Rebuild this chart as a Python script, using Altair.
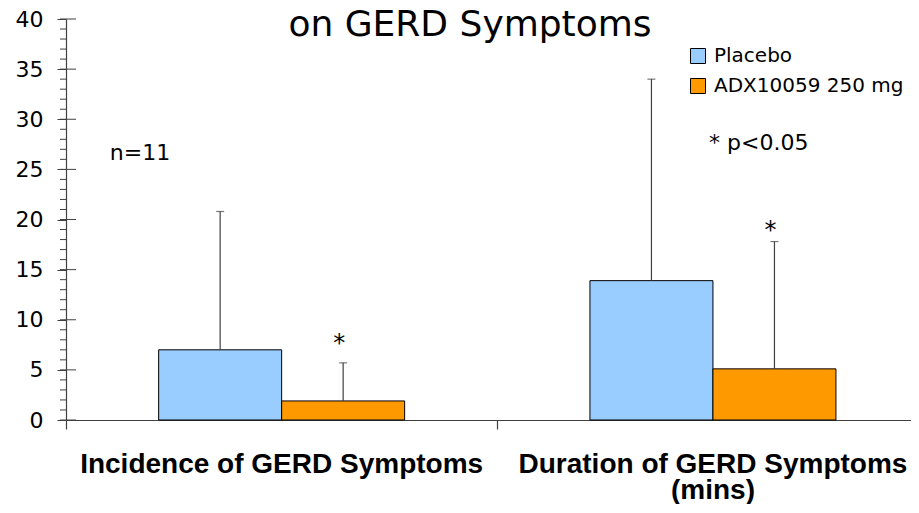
import altair as alt
import pandas as pd

# ---- data ----
categories = ["Incidence of GERD Symptoms", "Duration of GERD Symptoms\n(mins)"]
groups = ["Placebo", "ADX10059 250 mg"]
colors = ["#99CCFF", "#FF9900"]
placebo_mean = [7.0, 13.9]
placebo_sd = [13.8, 20.1]
adx_mean = [1.9, 5.1]
adx_sd = [3.8, 12.7]
star_y = [6.9, 18.2]          # where the "*" markers sit (value units)
y_ticks = [0, 5, 10, 15, 20, 25, 30, 35, 40]
minor_ticks = list(range(0, 41))

# ---- layout helpers ----
CAT_W = 431.3                  # px per category
PLOT_W = 845
PLOT_H = 401
BW = 123 / CAT_W               # bar width in category units
AX = "#404040"

rows = []
for i, cat in enumerate(categories):
    c = i + 0.5
    for j, (g, m, s) in enumerate(zip(groups, [placebo_mean[i], adx_mean[i]], [placebo_sd[i], adx_sd[i]])):
        x0 = c - BW if j == 0 else c
        x1 = x0 + BW
        rows.append(dict(category=cat, group=g, x0=x0, x1=x1, mid=(x0 + x1) / 2,
                         mean=m, top=m + s, base=0))
bars = pd.DataFrame(rows)
stars = pd.DataFrame({"x": [i + 0.5 + BW / 2 for i in range(len(categories))], "y": star_y})
cats = pd.DataFrame({"x": [i + 0.5 for i in range(len(categories))], "label": categories})

xscale = alt.Scale(domain=[0, PLOT_W / CAT_W], nice=False, zero=False, padding=0)
yscale = alt.Scale(domain=[0, 40], nice=False, padding=0)
xaxis = alt.Axis(values=[0, 1], labels=False, title=None, tickSize=9, grid=False,
                 domainColor=AX, tickColor=AX, domainWidth=1.2, tickWidth=1.2)
yaxis = alt.Axis(values=y_ticks, title=None, tickSize=9, grid=False, domainColor=AX,
                 tickColor=AX, labelFont="DejaVu Sans", labelFontSize=22, labelColor="black",
                 labelPadding=14, domainWidth=1.2, tickWidth=1)

base = alt.Chart(bars)

bar_layer = base.mark_bar(stroke="black", strokeWidth=1).encode(
    x=alt.X("x0:Q", scale=xscale, axis=xaxis),
    x2="x1",
    y=alt.Y("mean:Q", scale=yscale, axis=yaxis),
    y2="base",
    color=alt.Color("group:N", scale=alt.Scale(domain=groups, range=colors),
                    legend=alt.Legend(title=None, orient="none", legendX=622, legendY=27,
                                      symbolType="square", symbolSize=225,
                                      symbolStrokeColor="black", symbolStrokeWidth=1,
                                      labelFont="DejaVu Sans", labelFontSize=20,
                                      labelColor="black", labelOffset=6, rowPadding=10,
                                      labelLimit=400, padding=0)),
)

err = base.mark_rule(color=AX, strokeWidth=1.2).encode(
    x=alt.X("mid:Q", scale=xscale, axis=xaxis),
    y=alt.Y("mean:Q", scale=yscale, axis=yaxis),
    y2="top",
)
caps = base.mark_tick(color=AX, orient="horizontal", size=8, thickness=1.2).encode(
    x=alt.X("mid:Q", scale=xscale, axis=xaxis),
    y=alt.Y("top:Q", scale=yscale, axis=yaxis),
)

star_layer = alt.Chart(stars).mark_text(text="*", font="DejaVu Sans", fontSize=24,
                                        baseline="alphabetic", color="black", dx=-4).encode(
    x=alt.X("x:Q", scale=xscale, axis=xaxis),
    y=alt.Y("y:Q", scale=yscale, axis=yaxis),
)

minor = alt.Chart(pd.DataFrame({"t": minor_ticks})).mark_rule(color=AX, strokeWidth=1).encode(
    y=alt.Y("t:Q", scale=yscale, axis=yaxis), x=alt.value(-6), x2=alt.value(0))
major_in = alt.Chart(pd.DataFrame({"t": y_ticks})).mark_rule(color=AX, strokeWidth=1).encode(
    y=alt.Y("t:Q", scale=yscale, axis=yaxis), x=alt.value(0), x2=alt.value(10))

cat_labels = alt.Chart(cats).mark_text(font="Liberation Sans", fontWeight="bold", fontSize=28,
                                       baseline="alphabetic", align="center", lineBreak="\n",
                                       lineHeight=26, color="black").encode(
    x=alt.X("x:Q", scale=xscale, axis=xaxis),
    y=alt.value(454),
    text="label:N",
)

title = alt.Chart(pd.DataFrame({"t": ["on GERD Symptoms"]})).mark_text(
    font="DejaVu Sans", fontSize=36, align="center", baseline="alphabetic", color="black").encode(
    x=alt.value(404), y=alt.value(17), text="t:N")
n_txt = alt.Chart(pd.DataFrame({"t": ["n=11"]})).mark_text(
    font="DejaVu Sans", fontSize=22, align="center", baseline="alphabetic", color="black").encode(
    x=alt.value(74), y=alt.value(141), text="t:N")
p_txt = alt.Chart(pd.DataFrame({"t": ["* p<0.05"]})).mark_text(
    font="DejaVu Sans", fontSize=22, align="left", baseline="alphabetic", color="black").encode(
    x=alt.value(643), y=alt.value(131), text="t:N")

chart = alt.layer(minor, major_in, bar_layer, err, caps, star_layer, cat_labels, title, n_txt, p_txt).properties(
    width=PLOT_W, height=PLOT_H,
    padding={"left": 58, "top": 11, "right": 0, "bottom": 84},
    autosize=alt.AutoSizeParams(type="none"),
    background="white",
).configure_view(stroke=None)

chart.save("out.html", embed_options={"renderer": "svg", "actions": False})
